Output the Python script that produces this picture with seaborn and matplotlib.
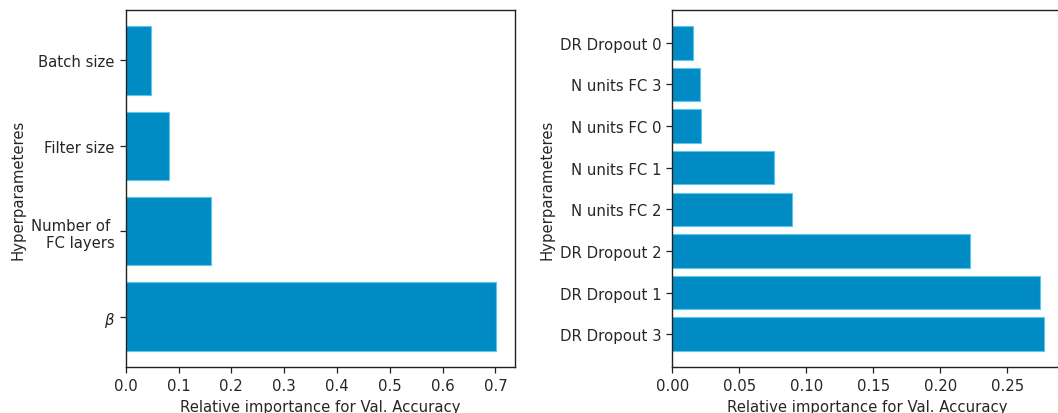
import matplotlib
matplotlib.use("Agg")
import matplotlib.pyplot as plt
import seaborn as sns
import pandas as pd

# Data (bottom-to-top order as in the reference)
left_params = [r"$\beta$", "Number of \nFC layers", "Filter size", "Batch size"]
left_values = [0.702, 0.161, 0.082, 0.047]

right_params = ["DR Dropout 3", "DR Dropout 1", "DR Dropout 2", "N units FC 2",
                "N units FC 1", "N units FC 0", "N units FC 3", "DR Dropout 0"]
right_values = [0.2776, 0.2744, 0.2222, 0.0891, 0.0761, 0.0214, 0.0206, 0.0157]

xlabel = "Relative importance for Val. Accuracy"
ylabel = "Hyperparameteres"

BAR = "#008BC4"
EDGE = "#5CC6EC"
FS = 10.7

sns.set_style("ticks")
plt.rcParams["font.family"] = ["DejaVu Sans"]
plt.rcParams["font.size"] = FS

fig = plt.figure(figsize=(10.58, 4.14), dpi=100)
ax1 = fig.add_axes([125.7 / 1058, 46 / 414, 389.3 / 1058, 357 / 414])
ax2 = fig.add_axes([672.3 / 1058, 46 / 414, 390.7 / 1058, 357 / 414])


def draw(ax, params, values):
    df = pd.DataFrame({"param": params, "value": values})
    order = list(reversed(params))  # seaborn puts first category on top
    sns.barplot(data=df, x="value", y="param", order=order, orient="h",
                color=BAR, saturation=1, width=0.8, edgecolor=EDGE,
                linewidth=0.8, ax=ax)
    n = len(params)
    span = n - 0.2
    ax.set_ylim(n - 0.6 + 0.05 * span, -0.4 - 0.05 * span)
    ax.set_xlim(0, max(values) * 1.05)
    ax.set_xlabel(xlabel, fontsize=FS)
    ax.set_ylabel(ylabel, fontsize=FS)
    ax.tick_params(labelsize=FS, length=4.5, width=0.9, color="#222222")
    for s in ax.spines.values():
        s.set_visible(True)
        s.set_color("#222222")
        s.set_linewidth(1.0)


draw(ax1, left_params, left_values)
draw(ax2, right_params, right_values)

fig.savefig("out.png", dpi=100)
